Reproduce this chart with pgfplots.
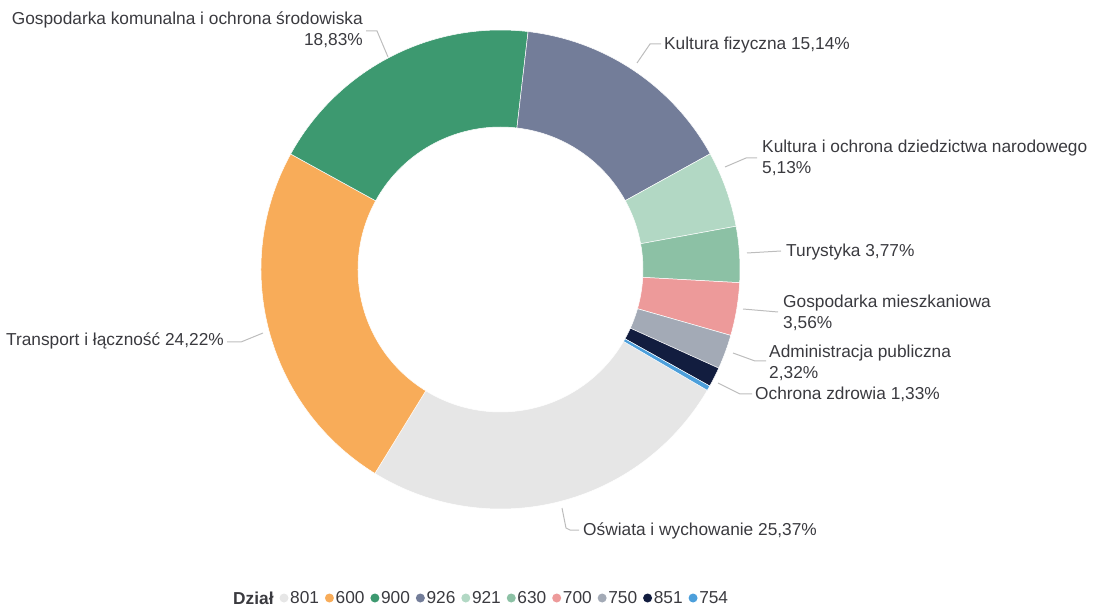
\documentclass[border=0pt]{standalone}
\usepackage{pgfplots}
\pgfplotsset{compat=1.18}
\usepackage{pgfplotstable}
\usepackage{fontspec}
\setmainfont{Liberation Sans}

\definecolor{pie0}{HTML}{E6E6E6}
\definecolor{pie1}{HTML}{F8AC59}
\definecolor{pie2}{HTML}{3D9970}
\definecolor{pie3}{HTML}{737D99}
\definecolor{pie4}{HTML}{B2D8C4}
\definecolor{pie5}{HTML}{8CC1A5}
\definecolor{pie6}{HTML}{ED9A9A}
\definecolor{pie7}{HTML}{A3AAB6}
\definecolor{pie8}{HTML}{121D3F}
\definecolor{pie9}{HTML}{4C9FDB}
\definecolor{txt}{HTML}{3A3A3F}
\definecolor{lead}{HTML}{BDBDBD}

\pgfplotstableread{
code value
801 25.37
600 24.22
900 18.83
926 15.14
921 5.13
630 3.77
700 3.56
750 2.32
851 1.33
754 0.33
}\piedata

\begin{document}
\begin{tikzpicture}[every node/.style={font=\fontsize{17.3}{21}\selectfont, text=txt, inner sep=0pt}]
\def\curang{-30.3}%
\pgfplotsforeachungrouped \i in {0,...,9}{%
  \pgfplotstablegetelem{\i}{value}\of\piedata
  \pgfmathsetmacro\nextang{\curang-3.6*\pgfplotsretval}%
  \expandafter\xdef\csname sa\i\endcsname{\curang}%
  \expandafter\xdef\csname ea\i\endcsname{\nextang}%
  \pgfplotstablegetelem{\i}{code}\of\piedata
  \expandafter\xdef\csname cd\i\endcsname{\pgfplotsretval}%
  \global\let\curang\nextang
}%
\begin{axis}[
  scale only axis, width=1094pt, height=608pt,
  xmin=0, xmax=1094, ymin=0, ymax=608,
  hide axis, clip=false]
\path (axis cs:0,0) rectangle (axis cs:1094,608);
\pgfplotsinvokeforeach{0,...,9}{%
  \edef\temp{\noexpand\fill[pie#1, draw=white, line width=0.5pt]
    ([shift={(\csname sa#1\endcsname:239.5pt)}]axis cs:500.5,338.5)
    arc[start angle=\csname sa#1\endcsname, end angle=\csname ea#1\endcsname, radius=239.5pt]
    -- ([shift={(\csname ea#1\endcsname:142.5pt)}]axis cs:500.5,338.5)
    arc[start angle=\csname ea#1\endcsname, end angle=\csname sa#1\endcsname, radius=142.5pt] -- cycle;}%
  \temp
}
% leader lines
\draw[lead, line width=1pt] (axis cs:366,577) -- (axis cs:377,577) -- (axis cs:388,551);
\draw[lead, line width=1pt] (axis cs:637,545) -- (axis cs:650,564) -- (axis cs:661,564);
\draw[lead, line width=1pt] (axis cs:725,441) -- (axis cs:746,450) -- (axis cs:757,450);
\draw[lead, line width=1pt] (axis cs:747,355) -- (axis cs:781,357);
\draw[lead, line width=1pt] (axis cs:743,299) -- (axis cs:778,296);
\draw[lead, line width=1pt] (axis cs:733,255) -- (axis cs:755,247) -- (axis cs:766,247);
\draw[lead, line width=1pt] (axis cs:718,225) -- (axis cs:740,214) -- (axis cs:752,214);
\draw[lead, line width=1pt] (axis cs:227,266) -- (axis cs:241,266) -- (axis cs:263,275);
\draw[lead, line width=1pt] (axis cs:562,100) -- (axis cs:566,80) -- (axis cs:570,78) -- (axis cs:579,78);
% labels
\node[anchor=east, align=right] at (axis cs:363,578) {Gospodarka komunalna i ochrona środowiska\\18,83\%};
\node[anchor=west] at (axis cs:664,563) {Kultura fizyczna 15,14\%};
\node[anchor=west, align=left] at (axis cs:762,450) {Kultura i ochrona dziedzictwa narodowego\\5,13\%};
\node[anchor=west] at (axis cs:786,356) {Turystyka 3,77\%};
\node[anchor=west, align=left] at (axis cs:783,295) {Gospodarka mieszkaniowa\\3,56\%};
\node[anchor=west, align=left] at (axis cs:769,245) {Administracja publiczna\\2,32\%};
\node[anchor=west] at (axis cs:755,214) {Ochrona zdrowia 1,33\%};
\node[anchor=east] at (axis cs:224,267) {Transport i łączność 24,22\%};
\node[anchor=west] at (axis cs:583,77) {Oświata i wychowanie 25,37\%};
% legend
\node[anchor=west] at (axis cs:233,10) {\bfseries Dział};
\pgfplotsinvokeforeach{0,...,9}{%
  \edef\temp{\noexpand\fill[pie#1] (axis cs:{284+45.45*#1},10) circle[radius=4.5pt];
   \noexpand\node[anchor=west] at (axis cs:{290+45.45*#1},10) {\csname cd#1\endcsname};}%
  \temp
}
\end{axis}
\end{tikzpicture}
\end{document}
